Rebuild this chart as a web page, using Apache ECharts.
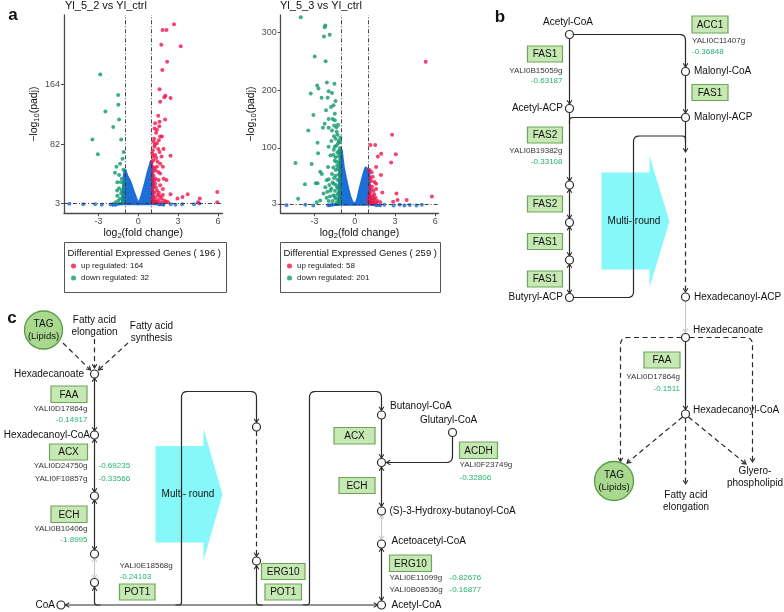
<!DOCTYPE html>
<html><head><meta charset="utf-8">
<script src="https://cdn.jsdelivr.net/npm/echarts@6/dist/echarts.min.js"></script>
<style>html,body{margin:0;padding:0;background:#fff}#c{width:784px;height:612px}</style>
</head><body><div id="c"></div>
<script>
// ---------------- data ----------------
const plotTitles = ['Yl_5_2 vs Yl_ctrl', 'Yl_5_3 vs Yl_ctrl'];
const totals = [196, 259];
const xTicks = [-3, 0, 3, 6];
const yTicks1 = [3, 82, 164];
const yTicks2 = [3, 100, 200, 300];
const names1 = ['up regulated: 164', 'down regulated: 32'];
const names2 = ['up regulated: 58', 'down regulated: 201'];
const thresholds = [-1, 1];
const padjLine = 3;

// Plot 1 (Yl_5_2 vs Yl_ctrl)
const up1 = [[2.69,245],[1.83,237],[2.12,237],[1.73,217],[3.2,215],[2.17,194],[1.81,183],[1.6,157],[2.04,148],[1.96,146],[2.43,145],[1.65,140],[1.5,121],[2.02,116],[1.6,113],[1.27,111],[1.58,107],[1.34,98],[1.78,93],[1.19,90],[1.65,93],[1.14,86],[1.4,84],[1.21,79],[1.09,74],[1.6,72],[2.43,67],[1.27,68],[1.14,61],[1.45,59],[1.65,56],[1.09,52],[1.4,52],[1.27,47],[1.65,43],[1.91,36],[2.12,34],[1.52,34],[1.27,29],[1.65,27],[1.14,25],[1.4,20],[2.43,15],[2.95,9],[3.33,11],[3.72,15],[4.5,4],[4.63,9],[5.95,18],[5.95,4],
  [1.05,70],[1.1,66],[1.02,58],[1.08,45],[1.15,40],[1.05,35],[1.2,33],[1.1,28],[1.32,24],[1.05,20],[1.2,17],[1.12,12],[1.28,10],[1.06,8],[1.18,6],[1.35,5],[1.5,7],[1.62,12],[1.75,9],[1.45,14],[1.55,17],[1.85,22],[1.95,6],[2.1,5],[2.25,4],[1.25,4],[1.1,4],[1.4,4],[1.7,4],[1.85,14],[1.3,36],[1.5,45],[1.2,50],[1.35,64],[1.5,76],[1.25,82],[1.75,66],[1.85,52],[1.55,88],[1.4,102],[1.22,104],[1.9,76]];
const down1 = [[-2.87,177],[-1.52,149],[-1.5,136],[-2.48,127],[-1.45,116],[-1.89,106],[-3.46,89],[-1.29,89],[-3.05,69],[-1.11,72],[-1.19,63],[-1.37,56],[-1.65,52],[-1.76,44],[-1.45,41],[-1.58,31],[-1.32,31],[-1.24,20],[-1.58,13],[-1.37,9],[-1.19,7],[-1.7,4],[-1.12,48],[-1.25,36],[-1.1,25],[-1.45,23],[-1.05,14],[-1.3,16],[-1.15,5],[-1.5,6],[-1.08,30],[-1.6,20]];
const base1 = [[-5.2,2],[-4.15,1.5],[-3.25,1.2],[-2.75,0.5],[-2.1,1],[-1.9,1.8],[-1.7,0.5],[1.6,1],[1.9,2],[2.45,1.5],[2.8,0.8],[3.3,1.2],[4.2,1.5],[4.6,2.2]];
const dense1 = [[-2.0,0],[-1.6,1.5],[-1.2,2.5],[-1.08,3],[-1.06,40],[-1.0,47],[-0.87,40],[-0.75,36],[-0.62,31],[-0.5,25],[-0.37,18],[-0.25,12],[-0.12,6],[0,2],[0.12,5],[0.25,11],[0.37,19],[0.5,27],[0.62,36],[0.75,45],[0.88,53],[0.97,59],[1.03,58],[1.08,30],[1.1,3],[1.3,2.5],[1.6,1.5],[2.0,0]];

// Plot 2 (Yl_5_3 vs Yl_ctrl)
const up2 = [[5.29,249],[2.78,123],[1.16,105],[1.52,105],[1.97,90],[3.06,89],[1.72,85],[2.71,75],[1.59,67],[1.95,53],[1.34,50],[1.22,43],[1.47,41],[1.29,33],[1.59,29],[2.05,23],[1.14,23],[1.34,17],[3.11,21],[5.75,16],[1.16,12],[1.47,10],[1.9,6],[2.86,7],[3.19,10],[3.87,10],[1.22,6],[1.09,8],[1.39,26],[1.59,38],
  [1.05,5],[1.12,15],[1.25,4],[1.3,9],[1.4,5],[1.08,19],[1.2,28],[1.45,20],[1.1,35],[1.35,13],[1.55,14],[1.7,8],[1.15,48],[1.05,60],[1.1,62],[1.25,58],[1.02,11],[1.6,5]];
const down2 = [[-4.03,326],[-2.2,312],[-2.25,309],[-1.87,296],[-2.3,293],[-2.99,258],[-2.18,250],[-2.08,213],[-2.81,208],[-1.52,211],[-2.71,203],[-1.95,198],[-3.29,194],[-1.7,195],[-2.48,187],[-2.03,187],[-1.44,181],[-1.59,174],[-1.77,171],[-2.15,165],[-1.49,159],[-3.09,157],[-1.95,150],[-1.65,150],[-1.49,148],[-2.25,142],[-2.38,135],[-1.95,135],[-1.54,139],[-1.37,136],[-3.47,130],[-1.7,130],[-1.29,123],[-1.44,116],[-1.19,113],[-2.78,109],[-1.95,102],[-1.37,104],[-1.57,97],[-1.19,93],[-2.74,91],[-1.82,87],[-1.44,84],[-4.43,74],[-3.22,72],[-2.0,67],[-1.32,69],[-2.58,59],[-2.46,55],[-1.7,55],[-1.44,52],[-1.95,46],[-2.91,39],[-2.78,39],[-3.72,37],[-2.2,32],[-1.57,38],[-1.32,32],[-1.82,26],[-2.33,21],[-1.19,23],[-4.23,12],[-2.58,9],[-2.84,6],[-1.95,8],[-1.49,15],[-1.19,9],
  [-1.08,118],[-1.12,110],[-1.1,100],[-1.25,108],[-1.15,96],[-1.06,90],[-1.3,92],[-1.22,86],[-1.1,80],[-1.5,78],[-1.18,74],[-1.35,76],[-1.08,70],[-1.25,64],[-1.12,60],[-1.42,62],[-1.6,66],[-1.2,54],[-1.08,50],[-1.55,48],[-1.3,45],[-1.15,42],[-1.65,40],[-1.05,38],[-1.4,36],[-1.22,30],[-1.75,30],[-1.1,28],[-1.48,26],[-1.3,20],[-1.6,18],[-1.12,16],[-1.85,16],[-1.4,12],[-1.2,6],[-1.65,8],[-1.05,5],[-1.35,5],[-2.1,14],[-2.05,24],[-1.9,36],[-2.1,44],[-1.6,88],[-1.5,102],[-1.75,112],[-1.35,128],[-1.25,140],[-1.55,120]];
const base2 = [[-5.1,1],[-3.7,1.5],[-3.1,0.5],[-2.0,0.8],[-1.75,2],[1.6,1],[2.2,1.8],[2.9,0.5],[3.35,1.5],[3.7,0.5],[4.1,1.2],[5.0,1.5],[4.6,0.5]];
const dense2 = [[-2.0,0],[-1.6,1.5],[-1.2,2.5],[-1.08,3],[-1.06,80],[-1.0,95],[-0.94,82],[-0.86,67],[-0.74,52],[-0.62,39],[-0.5,27],[-0.37,16],[-0.25,8],[-0.12,3],[0,1],[0.12,5],[0.25,14],[0.37,27],[0.5,39],[0.62,50],[0.72,58],[0.82,65],[0.92,64],[1.0,62],[1.06,55],[1.1,3],[1.3,2.5],[1.6,1.5],[2.0,0]];

// ---------------- styling ----------------
const RED = '#f0144b', GREEN = '#11996a', BLUE = '#1d6fd8';
const FF = '"Liberation Sans", Arial, sans-serif';

function axisX(i, grid, min, max) {
  return {
    type: 'value', gridIndex: grid, min: min, max: max,
    name: '{a|log}{s|2}{a|(fold change)}', nameLocation: 'middle', nameGap: 12,
    nameTextStyle: { rich: { a: { fontSize: 10.5, color: '#111', fontFamily: FF }, s: { fontSize: 7.5, color: '#111', fontFamily: FF, padding: [6, 0, 0, 0] } } },
    axisLine: { show: true, onZero: false, lineStyle: { color: '#4a4a4a', width: 1.3 } },
    axisTick: { show: true, length: 3, customValues: xTicks, lineStyle: { color: '#4a4a4a' } },
    axisLabel: { customValues: xTicks, fontSize: 9, color: '#4d4d4d', margin: 4, fontFamily: FF },
    splitLine: { show: false }
  };
}
function axisY(grid, min, max, ticks, gap) {
  return {
    type: 'value', gridIndex: grid, min: min, max: max,
    name: '{a|\u2212log}{s|10}{a|(padj)}', nameLocation: 'middle', nameGap: gap,
    nameTextStyle: { rich: { a: { fontSize: 10.5, color: '#111', fontFamily: FF }, s: { fontSize: 7.5, color: '#111', fontFamily: FF, padding: [6, 0, 0, 0] } } },
    axisLine: { show: true, onZero: false, lineStyle: { color: '#4a4a4a', width: 1.3 } },
    axisTick: { show: true, length: 3, customValues: ticks, lineStyle: { color: '#4a4a4a' } },
    axisLabel: { customValues: ticks, fontSize: 9, color: '#4d4d4d', margin: 4, fontFamily: FF },
    splitLine: { show: false }
  };
}
function volcano(i, dense, base, up, down, names) {
  return [
    { type: 'line', xAxisIndex: i, yAxisIndex: i, data: dense, symbol: 'none', showSymbol: false, silent: true, z: 2,
      lineStyle: { color: BLUE, width: 3, join: 'round' }, areaStyle: { color: BLUE, opacity: 1 } },
    { type: 'scatter', xAxisIndex: i, yAxisIndex: i, data: base, symbolSize: 4, itemStyle: { color: BLUE }, z: 3, silent: true },
    { name: names[0], type: 'scatter', xAxisIndex: i, yAxisIndex: i, data: up, symbolSize: 4, itemStyle: { color: RED }, z: 4 },
    { name: names[1], type: 'scatter', xAxisIndex: i, yAxisIndex: i, data: down, symbolSize: 4, itemStyle: { color: GREEN }, z: 4,
      markLine: { silent: true, symbol: 'none', label: { show: false }, animation: false,
        lineStyle: { color: '#333', width: 0.9, type: [4, 2, 1, 2] },
        data: [{ xAxis: thresholds[0] }, { xAxis: thresholds[1] }, { yAxis: padjLine }] } }
  ];
}

// ---------------- diagram helpers (panels b, c) ----------------
const LC = '#2a2a2a', GRAY = '#c8c8c8', GTXT = '#25b36f', IDC = '#333';
const BOXF = '#c6e8b3', BOXS = '#6fa35a';
const G = [];
function T(x, y, s, o) { o = o || {};
  G.push({ type: 'text', x: x, y: y, z: 30, style: { text: s, fill: o.c || '#111', fontSize: o.s || 10, fontFamily: FF,
    fontWeight: o.w || 'normal', align: o.a || 'left', textAlign: o.a || 'left', verticalAlign: 'middle', textVerticalAlign: 'middle' } }); }
function C(x, y) { G.push({ type: 'circle', z: 25, shape: { cx: x, cy: y, r: 4 }, style: { fill: '#fff', stroke: LC, lineWidth: 1.2 } }); }
function BIG(x, y, r, l1, l2) {
  G.push({ type: 'circle', z: 25, shape: { cx: x, cy: y, r: r }, style: { fill: '#a9d98e', stroke: '#5b9b46', lineWidth: 1.3 } });
  T(x, y - 6, l1, { a: 'center', s: 10 }); T(x, y + 6, l2, { a: 'center', s: 9.5 }); }
function BOX(x, y, w, h, s) {
  G.push({ type: 'rect', z: 25, shape: { x: x, y: y, width: w, height: h }, style: { fill: BOXF, stroke: BOXS, lineWidth: 1.2 } });
  T(x + w / 2, y + h / 2 + 0.5, s, { a: 'center', s: 10 }); }
// polyline through vertices with rounded corners of radius r
function RP(v, r, o) { o = o || {}; r = r || 0;
  const pts = [v[0]];
  for (let i = 1; i < v.length - 1; i++) {
    const p0 = v[i - 1], p1 = v[i], p2 = v[i + 1];
    const d1 = Math.hypot(p1[0] - p0[0], p1[1] - p0[1]), d2 = Math.hypot(p2[0] - p1[0], p2[1] - p1[1]);
    const rr = Math.min(r, d1 / 2, d2 / 2);
    const a = [p1[0] - (p1[0] - p0[0]) / d1 * rr, p1[1] - (p1[1] - p0[1]) / d1 * rr];
    const b = [p1[0] + (p2[0] - p1[0]) / d2 * rr, p1[1] + (p2[1] - p1[1]) / d2 * rr];
    for (let k = 0; k <= 8; k++) { const t = k / 8, u = 1 - t;
      pts.push([u * u * a[0] + 2 * u * t * p1[0] + t * t * b[0], u * u * a[1] + 2 * u * t * p1[1] + t * t * b[1]]); }
  }
  pts.push(v[v.length - 1]);
  G.push({ type: 'polyline', z: 20, shape: { points: pts }, style: { fill: null, stroke: o.c || LC, lineWidth: o.lw || 1.2, lineDash: o.dash ? [5, 3.5] : null } });
}
function H(x1, y1, x2, y2, c) {
  const a = Math.atan2(y2 - y1, x2 - x1), L = 4.5, w = 0.55;
  G.push({ type: 'polyline', z: 21, shape: { points: [[x2 - L * Math.cos(a - w), y2 - L * Math.sin(a - w)], [x2, y2], [x2 - L * Math.cos(a + w), y2 - L * Math.sin(a + w)]] },
    style: { fill: null, stroke: c || LC, lineWidth: 1.1 } }); }
function S(x1, y1, x2, y2, o) { o = o || {};
  RP([[x1, y1], [x2, y2]], 0, o); H(x1, y1, x2, y2, o.c); if (o.both) H(x2, y2, x1, y1, o.c); }
function ID(x, y, s, a) { T(x, y, s, { s: 8, c: IDC, a: a || 'left' }); }
function VAL(x, y, s, a) { T(x, y, s, { s: 8, c: GTXT, a: a || 'left' }); }
function CYAN(pts) { G.push({ type: 'polygon', z: 10, shape: { points: pts }, style: { fill: '#86f8fa' } }); }

// panel labels
T(13, 15, 'a', { w: 'bold', s: 17, a: 'center' });
T(500, 17, 'b', { w: 'bold', s: 17, a: 'center' });
T(12, 318, 'c', { w: 'bold', s: 17, a: 'center' });

// legend boxes for panel a
G.push({ type: 'rect', z: 5, shape: { x: 64.5, y: 242.5, width: 162, height: 50 }, style: { fill: '#fff', stroke: '#555', lineWidth: 1 } });
G.push({ type: 'rect', z: 5, shape: { x: 280.5, y: 242.5, width: 160, height: 50 }, style: { fill: '#fff', stroke: '#555', lineWidth: 1 } });
T(67.5, 253.5, 'Differential Expressed Genes ( ' + totals[0] + ' )', { s: 9.5 });
T(283.5, 253.5, 'Differential Expressed Genes ( ' + totals[1] + ' )', { s: 9.5 });

// ---- panel b ----
T(568, 22, 'Acetyl-CoA', { a: 'center' }); C(569.5, 34.5);
RP([[573.5,34.5],[685.5,34.5],[685.5,67]], 6); H(685.5, 60, 685.5, 67);
C(685.5, 71.5); T(694, 71.5, 'Malonyl-CoA');
BOX(692, 16, 36, 17, 'ACC1'); ID(692, 41, 'YALI0C11407g'); VAL(692, 52, '-0.36848');
BOX(692, 84.5, 36, 16, 'FAS1');
S(685.5, 75.5, 685.5, 113);
C(685.5, 117.5); T(694, 117.5, 'Malonyl-ACP');
S(569.5, 38.5, 569.5, 104); C(569.5, 108.5); T(563, 108.5, 'Acetyl-ACP', { a: 'right' });
BOX(527.5, 46, 35, 16, 'FAS1'); ID(562.5, 71, 'YALI0B15059g', 'right'); VAL(562.5, 81, '-0.63187', 'right');
RP([[681.5,117.5],[569.5,117.5],[569.5,124]], 6);
S(569.5, 112.5, 569.5, 181);
BOX(527.5, 127, 35, 16, 'FAS2'); ID(562.5, 151, 'YALI0B19382g', 'right'); VAL(562.5, 162, '-0.33108', 'right');
C(569.5, 185); C(569.5, 222.5); C(569.5, 260); C(569.5, 297.5);
S(569.5, 189, 569.5, 218.5, { both: true }); S(569.5, 226.5, 569.5, 256, { both: true }); S(569.5, 264, 569.5, 293.5, { both: true });
BOX(527.5, 196, 35, 16, 'FAS2'); BOX(527.5, 233.5, 35, 16, 'FAS1'); BOX(527.5, 271, 35, 16, 'FAS1');
T(563, 297.5, 'Butyryl-ACP', { a: 'right' });
CYAN([[601.5,172.5],[649.5,172.5],[649.5,156],[669.5,221.5],[649.5,287.5],[649.5,269.5],[601.5,269.5]]);
T(634, 221.5, 'Multi- round', { a: 'center' });
RP([[573.5,297.5],[633.5,297.5],[633.5,136],[685.5,136],[685.5,142.5]], 6);
S(685.5, 121.5, 685.5, 152);
S(685.5, 158, 685.5, 292, { dash: true });
C(685.5, 297); T(694, 297, 'Hexadecanoyl-ACP');
S(685.5, 301, 685.5, 332.5, { c: GRAY }); C(685.5, 337.5); T(693, 330, 'Hexadecanoate');
RP([[681.5,337.5],[620.5,337.5],[620.5,461]], 7.5, { dash: true }); H(620.5, 450, 620.5, 461.5);
RP([[689.5,337.5],[752.5,337.5],[752.5,462]], 7.5, { dash: true }); H(752.5, 450, 752.5, 462);
BOX(644, 352, 36, 16, 'FAA'); ID(680, 377, 'YALI0D17864g', 'right'); VAL(680, 389, '-0.1511', 'right');
S(685.5, 341.5, 685.5, 409.5); C(685.5, 414); T(693, 410, 'Hexadecanoyl-CoA');
S(682.5, 417, 627, 463, { dash: true }); S(688.5, 417, 746, 464, { dash: true }); S(685.5, 418, 685.5, 484, { dash: true });
BIG(614, 481, 19.5, 'TAG', '(Lipids)');
T(755, 471.5, 'Glyero-', { a: 'center' }); T(755, 483.5, 'phospholipid', { a: 'center' });
T(686, 495, 'Fatty acid', { a: 'center' }); T(686, 507, 'elongation', { a: 'center' });

// ---- panel c ----
BIG(43.5, 330, 19, 'TAG', '(Lipids)');
T(94.5, 320.5, 'Fatty acid', { a: 'center' }); T(94.5, 332.5, 'elongation', { a: 'center' });
T(151.5, 326, 'Fatty acid', { a: 'center' }); T(151.5, 338, 'synthesis', { a: 'center' });
S(63, 343, 90.5, 370, { dash: true }); S(94.5, 339, 94.5, 368, { dash: true }); S(128, 343, 98.5, 370, { dash: true });
C(94.5, 374); T(84, 374, 'Hexadecanoate', { a: 'right' });
S(94.5, 378, 94.5, 431, { both: true });
BOX(51, 386, 36, 16.5, 'FAA'); ID(87.5, 408.5, 'YALI0D17864g', 'right'); VAL(87.5, 419.5, '-0.14917', 'right');
C(94.5, 435); T(90, 435, 'Hexadecanoyl-CoA', { a: 'right' });
S(94.5, 439, 94.5, 492, { both: true });
BOX(49.5, 444, 38, 16, 'ACX'); ID(87.5, 466, 'YALI0D24750g', 'right'); ID(87.5, 479, 'YALI0F10857g', 'right');
VAL(98.5, 466, '-0.69235'); VAL(98.5, 479, '-0.33566');
C(94.5, 496);
S(94.5, 500, 94.5, 550, { both: true });
BOX(51, 506, 36, 16.5, 'ECH'); ID(87.5, 528.5, 'YALI0B10406g', 'right'); VAL(87.5, 539.5, '-1.8995', 'right');
C(94.5, 554);
S(94.5, 558, 94.5, 578.5, { both: true, c: GRAY });
C(94.5, 582.5);
RP([[94.5,587],[94.5,605],[100.5,605]], 6); H(94.5, 595, 94.5, 587);
RP([[65,605],[377,605]], 0); H(75, 605, 65.5, 605); H(370, 605, 377.5, 605);
C(61, 605); T(55, 605, 'CoA', { a: 'right' });
BOX(119.5, 584, 35.5, 16, 'POT1'); ID(119.5, 566, 'YALI0E18568g'); VAL(119.5, 577, '-0.24103');
CYAN([[155.5,446],[203.5,446],[203.5,428.5],[222.5,494.5],[203.5,560.5],[203.5,542.5],[155.5,542.5]]);
T(188, 494, 'Multi- round', { a: 'center' });
RP([[175.5,605],[181.5,605],[181.5,391.5],[256.5,391.5],[256.5,422.5]], 6); H(256.5, 415, 256.5, 422.5);
C(256.5, 427);
S(256.5, 431, 256.5, 556.5, { dash: true });
C(256.5, 561);
RP([[256.5,565],[256.5,605],[262.5,605]], 6); H(256.5, 575, 256.5, 565.5);
BOX(261.5, 563.5, 43.5, 16, 'ERG10'); BOX(265, 584, 36.5, 16, 'POT1');
RP([[303,605],[309.5,605],[309.5,391.5],[381.5,391.5],[381.5,410.5]], 6); H(381.5, 403, 381.5, 410.5);
C(381.5, 415); T(390, 406, 'Butanoyl-CoA');
S(381.5, 419, 381.5, 458);
C(381.5, 462.5);
BOX(334, 427.5, 41, 16.5, 'ACX');
T(448.5, 420, 'Glutaryl-CoA', { a: 'center' }); C(452.5, 432.5);
RP([[452.5,436.5],[452.5,462.5],[386.5,462.5]], 6.5); H(395, 462.5, 386.5, 462.5);
BOX(459.5, 442, 38, 16.5, 'ACDH'); ID(459.5, 465, 'YALI0F23749g'); VAL(459.5, 477.5, '-0.32806');
BOX(339, 477.5, 36, 16, 'ECH');
S(381.5, 467, 381.5, 506.5, { both: true });
C(381.5, 511); T(389.5, 511, '(S)-3-Hydroxy-butanoyl-CoA');
S(381.5, 515, 381.5, 539.5, { both: true, c: GRAY });
C(381.5, 544); T(391.5, 541, 'Acetoacetyl-CoA');
BOX(389.5, 555, 42, 16.5, 'ERG10'); ID(389.5, 578, 'YALI0E11099g'); VAL(449.5, 578, '-0.82676');
ID(389.5, 590, 'YALI0B08536g'); VAL(449.5, 590, '-0.16877');
S(381.5, 548, 381.5, 600.5, { both: true });
C(381.5, 605); T(391.5, 605, 'Acetyl-CoA');

// ---------------- chart ----------------
const chart = echarts.init(document.getElementById('c'), null, { renderer: 'canvas' });
chart.setOption({
  animation: false,
  backgroundColor: '#fff',
  textStyle: { fontFamily: FF },
  title: [
    { text: plotTitles[0], left: 65, top: 0, padding: 0, textStyle: { fontSize: 11, fontWeight: 'normal', color: '#111', fontFamily: FF } },
    { text: plotTitles[1], left: 280, top: 0, padding: 0, textStyle: { fontSize: 11, fontWeight: 'normal', color: '#111', fontFamily: FF } }
  ],
  grid: [
    { left: 64, top: 15, width: 158.3, height: 198.3 },
    { left: 280.7, top: 15, width: 157.6, height: 198.3 }
  ],
  xAxis: [axisX(0, 0, -5.6, 6.33), axisX(1, 1, -5.53, 6.23)],
  yAxis: [axisY(0, -10.9, 257.4, yTicks1, 16), axisY(1, -13.1, 330, yTicks2, 20)],
  legend: [
    { data: names1, left: 71, top: 262, orient: 'vertical', padding: 0, itemGap: 4, itemWidth: 5, itemHeight: 5, icon: 'circle',
      textStyle: { fontSize: 8, color: '#222', fontFamily: FF }, selectedMode: false, z: 10 },
    { data: names2, left: 287, top: 262, orient: 'vertical', padding: 0, itemGap: 4, itemWidth: 5, itemHeight: 5, icon: 'circle',
      textStyle: { fontSize: 8, color: '#222', fontFamily: FF }, selectedMode: false, z: 10 }
  ],
  series: [].concat(volcano(0, dense1, base1, up1, down1, names1), volcano(1, dense2, base2, up2, down2, names2)),
  graphic: { elements: G }
});
</script></body></html>
